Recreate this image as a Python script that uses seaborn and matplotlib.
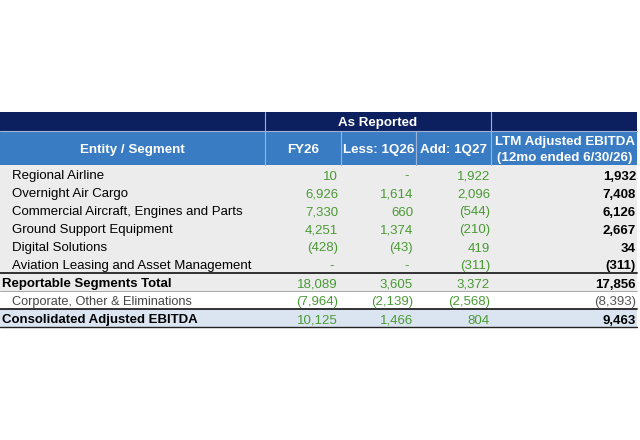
import matplotlib
matplotlib.use("Agg")
import matplotlib.pyplot as plt
from matplotlib.patches import Rectangle
import seaborn as sns
import pandas as pd

# ---------------- data ----------------
segments = ["Regional Airline", "Overnight Air Cargo",
            "Commercial Aircraft, Engines and Parts", "Ground Support Equipment",
            "Digital Solutions", "Aviation Leasing and Asset Management"]
fy26 = [10, 6926, 7330, 4251, -428, None]
less_1q26 = [None, 1614, 660, 1374, -43, None]
add_1q27 = [1922, 2096, -544, -210, 419, -311]
ltm = [1932, 7408, 6126, 2667, 34, -311]

total_label = "Reportable Segments Total"
total_vals = [18089, 3605, 3372, 17856]
corp_label = "Corporate, Other & Eliminations"
corp_vals = [-7964, -2139, -2568, -8393]
cons_label = "Consolidated Adjusted EBITDA"
cons_vals = [10125, 1466, 804, 9463]

header_group = "As Reported"
col_headers = ["Entity / Segment", "FY26", "Less: 1Q26", "Add: 1Q27"]
ltm_header = ["LTM Adjusted EBITDA", "(12mo ended 6/30/26)"]

df = pd.DataFrame({"segment": segments, "fy26": fy26, "less": less_1q26,
                   "add": add_1q27, "ltm": ltm})

# ---------------- style ----------------
sns.set_theme(style="white")
plt.rcParams["font.family"] = ["Liberation Sans", "DejaVu Sans"]

NAVY = "#0c1f5e"
LBLUE = "#3a7cc3"
GREEN = "#4a9a34"
GRAYBG = "#ececec"
CONSBG = "#dbe5f1"

fig = plt.figure(figsize=(6.4, 4.4), dpi=100)
ax = fig.add_axes([0, 0, 1, 1])
ax.set_xlim(0, 640)
ax.set_ylim(440, 0)
ax.axis("off")

# layout
x_edges = [0, 265, 341, 416, 491, 637]
y_top, y_h1, y_h2 = 112, 131, 165
row_h = 18
fs = 9.5
hfs = 9.6

def fmt(v):
    if v is None:
        return "-"
    if v < 0:
        return f"({abs(v):,})"
    return f"{v:,}"

# header backgrounds
ax.add_patch(Rectangle((x_edges[0], y_top), x_edges[-1] - x_edges[0], y_h1 - y_top, color=NAVY, lw=0))
ax.add_patch(Rectangle((x_edges[0], y_h1), x_edges[-1] - x_edges[0], y_h2 - y_h1, color=LBLUE, lw=0))
ax.plot([x_edges[0], x_edges[-1]], [y_h1, y_h1], color="#9fb3d6", lw=0.8)
for xe in [x_edges[1], x_edges[4]]:
    ax.plot([xe, xe], [y_top, y_h2], color="#9fb3d6", lw=0.8)
for xe in [x_edges[2], x_edges[3]]:
    ax.plot([xe, xe], [y_h1, y_h2], color="#9fb3d6", lw=0.8)

ax.text((x_edges[1] + x_edges[4]) / 2, 126, header_group,
        color="white", fontsize=hfs, fontweight="bold", ha="center", va="baseline")
for i, h in enumerate(col_headers):
    cx = (x_edges[i] + x_edges[i + 1]) / 2
    ax.text(cx, 153, h, color="white", fontsize=hfs,
            fontweight="bold", ha="center", va="baseline")
cx = (x_edges[4] + x_edges[5]) / 2 + 1
ax.text(cx, 144.5, ltm_header[0], color="white", fontsize=hfs, fontweight="bold",
        ha="center", va="baseline")
ax.text(cx, 161, ltm_header[1], color="white", fontsize=hfs, fontweight="bold",
        ha="center", va="baseline")

# body rows
n_seg = len(df)
rows = []
for _, r in df.iterrows():
    rows.append(("seg", r["segment"], [r["fy26"], r["less"], r["add"], r["ltm"]]))
rows.append(("total", total_label, total_vals))
rows.append(("corp", corp_label, corp_vals))
rows.append(("cons", cons_label, cons_vals))

right_x = [338, 413, 490, 636]
for i, (kind, label, vals) in enumerate(rows):
    y0 = y_h2 + i * row_h
    yb = y0 + 14.5
    bg = {"seg": GRAYBG, "total": GRAYBG, "corp": "white", "cons": CONSBG}[kind]
    ax.add_patch(Rectangle((x_edges[0], y0), x_edges[-1] - x_edges[0], row_h, color=bg, lw=0))
    bold = kind in ("total", "cons")
    lx = 1.5 if bold else 12
    tcol = "#444444" if kind == "corp" else "black"
    ax.text(lx, yb, label, fontsize=fs if kind != "corp" else 9.2,
            fontweight="bold" if bold else "normal",
            color=tcol, ha="left", va="baseline")
    for j, v in enumerate(vals):
        v = None if (v is None or pd.isna(v)) else int(v)
        s = fmt(v)
        xr = right_x[j] - (4 if v is None else 0)
        if j == 3:
            c = "#555555" if kind == "corp" else "black"
            w = "normal" if kind == "corp" else "bold"
        else:
            c, w = GREEN, "normal"
        ax.text(xr, yb, s, fontsize=fs, color=c, fontweight=w, ha="right", va="baseline")

# rules
y_total = y_h2 + n_seg * row_h
ax.plot([0, 637], [y_total, y_total], color="#222222", lw=1.3)
ax.plot([0, 637], [y_total + row_h, y_total + row_h], color="#999999", lw=0.6)
ax.plot([0, 637], [y_total + 2 * row_h, y_total + 2 * row_h], color="#222222", lw=1.3)
ax.plot([0, 637], [y_total + 3 * row_h, y_total + 3 * row_h], color="#222222", lw=1.0)

fig.savefig("out.png", dpi=100)
